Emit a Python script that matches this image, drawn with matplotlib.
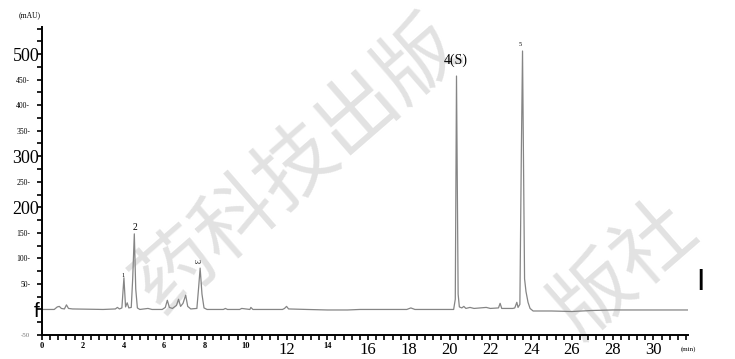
import matplotlib.pyplot as plt
import matplotlib.transforms as mtransforms
from matplotlib.ticker import MultipleLocator

# chromatogram trace (retention time in min, signal in mAU)
rt = [0.0, 0.6, 0.75, 0.85, 0.95, 1.1, 1.2, 1.3, 1.5, 3.0, 3.6, 3.7, 3.8, 3.92,
      4.02, 4.1, 4.18, 4.26, 4.38, 4.45, 4.53, 4.6, 4.68, 4.8, 5.2, 5.4, 5.9,
      6.05, 6.15, 6.25, 6.4, 6.6, 6.7, 6.8, 6.92, 7.05, 7.15, 7.3, 7.6, 7.68,
      7.76, 7.85, 7.95, 8.1, 8.9, 9.0, 9.1, 9.7, 9.8, 10.2, 10.25, 10.35, 11.8,
      11.9, 12.0, 12.1, 13.0, 14.0, 15.0, 15.6, 17.9, 18.1, 18.3, 20.2, 20.28,
      20.34, 20.42, 20.48, 20.6, 20.7, 20.8, 21.0, 21.2, 21.8, 22.0, 22.4,
      22.48, 22.56, 23.1, 23.2, 23.3, 23.36, 23.45, 23.52, 23.58, 23.63, 23.68,
      23.75, 23.85, 23.95, 24.1, 25.0, 26.0, 27.0, 28.0, 31.7]
mau = [0, 0, 5, 6, 2, 1, 9, 2, 1, 0, 1, 4, 1, 3,
       62, 5, 13, 3, 4, 60, 148, 40, 3, 0, 2, 0, 0,
       4, 18, 4, 2, 8, 20, 6, 12, 28, 6, 1, 2, 40,
       81, 30, 3, 0, 0, 2, 0, 0, 2, 0, 4, 0, 0,
       2, 6, 1, 0, -1, -1, 0, 0, 3, 0, 0, 20,
       457, 30, 5, 3, 6, 2, 4, 2, 4, 2, 3,
       12, 2, 2, 3, 14, 4, 10, 300, 506, 280, 60,
       35, 14, 2, -3, -3, -4, -2, -1, -1]

peak_names = ['1', '2', '3', '4(S)', '5']
peak_rt = [3.98, 4.55, 7.55, 20.3, 23.45]
peak_lab_y = [66, 161, 94, 488, 519]

y_ticks = [-50, 0, 50, 100, 150, 200, 250, 300, 350, 400, 450, 500]
y_labels = ['-50', 'f', '50-', '100-', '150-', '200', '250-', '300', '350-', '400-', '450-', '500']
x_ticks = [0, 2, 4, 6, 8, 10, 12, 14, 16, 18, 20, 22, 24, 26, 28, 30]
x_labels = [str(v) for v in x_ticks]

fig = plt.figure(figsize=(7.35, 3.59), dpi=100)
ax = fig.add_axes([42 / 735, 24 / 359, 646 / 735, 308 / 359])
ax.patch.set_alpha(0)

# watermark behind the chart (only the parts visible in the picture)
wm_font = ['Noto Sans CJK SC', 'DejaVu Sans']
fig.text(297 / 735, 1 - 165 / 359, '药科技出版', rotation=41, rotation_mode='anchor',
         ha='center', va='center', fontsize=58, color='#e2e2e2',
         family=wm_font, fontweight='light', zorder=-5)
fig.text(625 / 735, 1 - 270 / 359, '版社', rotation=41, rotation_mode='anchor',
         ha='center', va='center', fontsize=58, color='#e2e2e2',
         family=wm_font, fontweight='light', zorder=-5)

ax.plot(rt, mau, color='#858585', lw=0.9)

ax.set_xlim(0, 31.7)
ax.set_ylim(-50, 553)
for s in ['top', 'right']:
    ax.spines[s].set_visible(False)
for s in ['left', 'bottom']:
    ax.spines[s].set_linewidth(1.4)

ax.set_yticks(y_ticks)
ax.set_yticklabels(y_labels)
ax.yaxis.set_minor_locator(MultipleLocator(25))
ax.set_xticks(x_ticks)
ax.set_xticklabels(x_labels)
ax.xaxis.set_minor_locator(MultipleLocator(0.4))
ax.tick_params(axis='both', which='both', direction='out', length=3.5, width=1.2)
ax.tick_params(axis='y', pad=5)
ax.tick_params(axis='x', pad=1.5)

shift = mtransforms.ScaledTranslation(6.5 / 72, 0, fig.dpi_scale_trans)
for lab in ax.get_yticklabels():
    t = lab.get_text()
    if t in ('500', '300', '200'):
        lab.set_fontsize(13)
        lab.set_family('Liberation Serif')
        lab.set_transform(lab.get_transform() + shift)
    elif t == 'f':
        lab.set_fontsize(15)
        lab.set_family('Liberation Sans')
        lab.set_transform(lab.get_transform() + shift)
    elif t == '-50':
        lab.set_fontsize(5)
        lab.set_color('#777777')
        lab.set_family('Liberation Serif')
    else:
        lab.set_fontsize(5.5)
        lab.set_family('Liberation Serif')

for lab in ax.get_xticklabels():
    v = int(lab.get_text())
    lab.set_family('Liberation Serif')
    if v <= 10 or v == 14:
        lab.set_fontsize(6)
        lab.set_fontweight('bold')
    else:
        lab.set_fontsize(12)

ax.text(-0.019, 1.025, '(mAU)', transform=ax.transAxes, fontsize=5.5,
        family='Liberation Serif', ha='center', va='bottom')
ax.text(1.0, -0.035, '(min)', transform=ax.transAxes, fontsize=5,
        family='Liberation Serif', ha='center', va='top')

for name, x, y in zip(peak_names, peak_rt, peak_lab_y):
    if name == '4(S)':
        size, rot = 10, 0
    elif name == '2':
        size, rot = 7, 0
    elif name == '3':
        size, rot = 6, -90
    else:
        size, rot = 4.5, 0
    ax.text(x, y, name, fontsize=size, rotation=rot, ha='center', va='center',
            family='Liberation Serif')

fig.text(700 / 735, 1 - 280 / 359, '|', fontsize=16, ha='center', va='center',
         family='Liberation Sans', fontweight='bold')

fig.savefig('out.png', dpi=100)
